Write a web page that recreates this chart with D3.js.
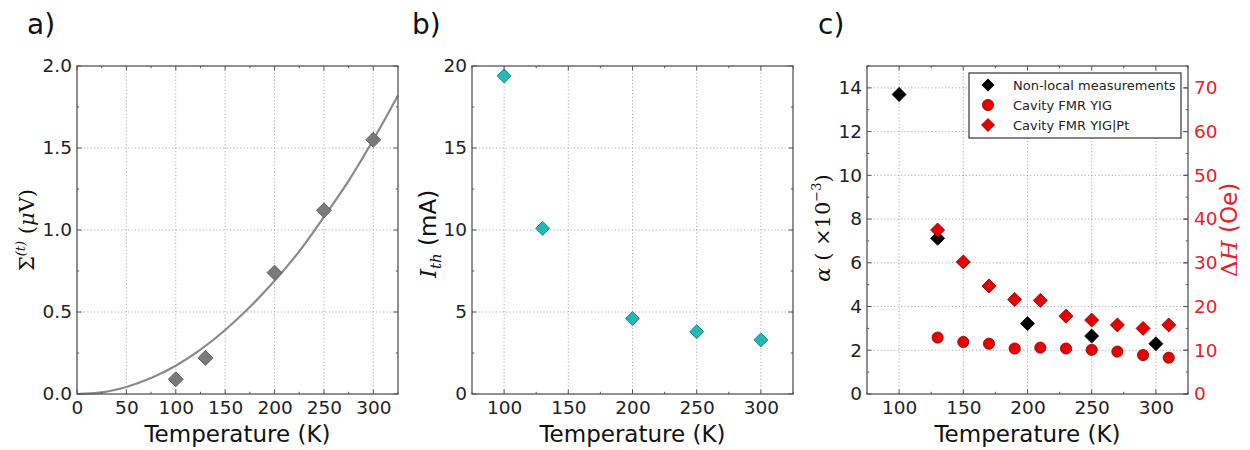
<!DOCTYPE html>
<html><head><meta charset="utf-8">
<script src="https://cdn.jsdelivr.net/npm/d3@7"></script>
<style>body{margin:0;background:#fff}</style>
</head><body>
<svg id="chart" width="1250" height="450" xmlns="http://www.w3.org/2000/svg"></svg>
<script>
// ---------- data ----------
const tempA = [100, 130, 200, 250, 300];
const sigmaA = [0.09, 0.22, 0.74, 1.12, 1.55];
const fitT = [0, 25, 50, 75, 100, 125, 150, 175, 200, 225, 250, 275, 300, 325];
const fitV = [0, 0.01, 0.043, 0.097, 0.172, 0.27, 0.39, 0.53, 0.69, 0.87, 1.08, 1.30, 1.55, 1.82];

const tempB = [100, 130, 200, 250, 300];
const ithB = [19.4, 10.1, 4.6, 3.8, 3.3];

const tempNL = [100, 130, 200, 250, 300];
const alphaNL = [13.7, 7.12, 3.22, 2.65, 2.30];
const tempFMR = [130, 150, 170, 190, 210, 230, 250, 270, 290, 310];
const dhYIG = [12.9, 11.9, 11.5, 10.4, 10.6, 10.4, 10.1, 9.7, 8.9, 8.3];
const dhYIGPt = [37.5, 30.2, 24.7, 21.6, 21.4, 17.8, 16.9, 15.8, 15.0, 15.8];

const xTicksA = [0, 50, 100, 150, 200, 250, 300];
const yTicksA = [0, 0.5, 1.0, 1.5, 2.0];
const xTicksBC = [100, 150, 200, 250, 300];
const yTicksB = [0, 5, 10, 15, 20];
const yTicksC = [0, 2, 4, 6, 8, 10, 12, 14];
const yTicksC2 = [0, 10, 20, 30, 40, 50, 60, 70];
const legendLabels = ["Non-local measurements", "Cavity FMR YIG", "Cavity FMR YIG|Pt"];

// ---------- helpers ----------
const svg = d3.select("#chart");
const SANS = "DejaVu Sans, sans-serif";
const SERIF = "DejaVu Serif, serif";
const FRAME = "#555";
const TOP = 66, BOT = 394;

function panel(o) {
  const g = svg.append("g");
  const x = d3.scaleLinear().domain(o.xDomain).range([o.x0, o.x1]);
  const y = d3.scaleLinear().domain(o.yDomain).range([BOT, TOP]);
  // grid
  g.selectAll(".gx").data(o.xTicks.filter(t => x(t) > o.x0 + 1 && x(t) < o.x1 - 1)).enter().append("line")
    .attr("x1", d => x(d)).attr("x2", d => x(d)).attr("y1", TOP).attr("y2", BOT)
    .attr("stroke", "#999").attr("stroke-width", 0.8).attr("stroke-dasharray", "1.2,2.2");
  g.selectAll(".gy").data(o.yTicks.filter(t => y(t) > TOP + 1 && y(t) < BOT - 1)).enter().append("line")
    .attr("x1", o.x0).attr("x2", o.x1).attr("y1", d => y(d)).attr("y2", d => y(d))
    .attr("stroke", "#999").attr("stroke-width", 0.8).attr("stroke-dasharray", "1.2,2.2");
  return {g, x, y};
}

function frame(p, o) {
  const g = svg.append("g");
  const {x, y} = p;
  // major & minor ticks (inward, all sides)
  const xMinor = [];
  for (let i = 0; i < o.xTicks.length - 1; i++) xMinor.push((o.xTicks[i] + o.xTicks[i + 1]) / 2);
  if (o.xExtraMinor) xMinor.push(...o.xExtraMinor);
  const yMinor = [];
  for (let i = 0; i < o.yTicks.length - 1; i++) yMinor.push((o.yTicks[i] + o.yTicks[i + 1]) / 2);
  if (o.yExtraMinor) yMinor.push(...o.yExtraMinor);
  const tick = (arr, len, horiz) => {
    arr.forEach(v => {
      if (horiz) {
        const px = x(v);
        g.append("line").attr("x1", px).attr("x2", px).attr("y1", BOT).attr("y2", BOT - len).attr("stroke", FRAME);
        g.append("line").attr("x1", px).attr("x2", px).attr("y1", TOP).attr("y2", TOP + len).attr("stroke", FRAME);
      } else {
        const py = y(v);
        g.append("line").attr("x1", o.x0).attr("x2", o.x0 + len).attr("y1", py).attr("y2", py).attr("stroke", FRAME);
        if (!o.noRightTicks)
          g.append("line").attr("x1", o.x1).attr("x2", o.x1 - len).attr("y1", py).attr("y2", py).attr("stroke", FRAME);
      }
    });
  };
  tick(o.xTicks, 4.5, true); tick(xMinor, 2.2, true);
  tick(o.yTicks, 4.5, false); tick(yMinor, 2.2, false);
  g.append("rect").attr("x", o.x0).attr("y", TOP).attr("width", o.x1 - o.x0).attr("height", BOT - TOP)
    .attr("fill", "none").attr("stroke", FRAME).attr("stroke-width", 1.3);
  // tick labels via axes
  const ax = d3.axisBottom(x).tickValues(o.xTicks).tickSize(0).tickPadding(7).tickFormat(d3.format("d"));
  const axg = svg.append("g").attr("transform", `translate(0,${BOT})`).call(ax);
  axg.select(".domain").remove();
  axg.selectAll("text").attr("font-family", SANS).attr("font-size", 18.5).attr("fill", "#222");
  const ay = d3.axisLeft(y).tickValues(o.yTicks).tickSize(0).tickPadding(5).tickFormat(o.yFmt);
  const ayg = svg.append("g").attr("transform", `translate(${o.x0},0)`).call(ay);
  ayg.select(".domain").remove();
  ayg.selectAll("text").attr("font-family", SANS).attr("font-size", 18.5).attr("fill", "#222");
  // x label
  svg.append("text").attr("x", (o.x0 + o.x1) / 2).attr("y", 442).attr("text-anchor", "middle")
    .attr("font-family", SANS).attr("font-size", 23).attr("fill", "#111").text("Temperature (K)");
}

function diamond(g, xs, ys, x, y, fill, stroke, diag) {
  const side = diag / Math.SQRT2;
  const sym = d3.symbol(d3.symbolSquare, side * side);
  g.selectAll(null).data(xs.map((t, i) => [t, ys[i]])).enter().append("path")
    .attr("d", sym).attr("transform", d => `translate(${x(d[0])},${y(d[1])}) rotate(45)`)
    .attr("fill", fill).attr("stroke", stroke).attr("stroke-width", 0.8);
}

function panelLabel(txt, px) {
  svg.append("text").attr("x", px).attr("y", 34).attr("font-family", SANS).attr("font-size", 28)
    .attr("fill", "#111").text(txt);
}

// ---------- panel a ----------
const oA = {x0: 77, x1: 398, xDomain: [0, 325], yDomain: [0, 2], xTicks: xTicksA, yTicks: yTicksA,
  yFmt: d3.format(".1f"), xExtraMinor: [325]};
const pA = panel(oA);
pA.g.append("path").datum(fitT.map((t, i) => [t, fitV[i]]))
  .attr("d", d3.line().x(d => pA.x(d[0])).y(d => pA.y(d[1])).curve(d3.curveMonotoneX))
  .attr("fill", "none").attr("stroke", "#8a8a8a").attr("stroke-width", 2.2);
diamond(pA.g, tempA, sigmaA, pA.x, pA.y, "#7a7a7a", "#5a5a5a", 15);
frame(pA, oA);
panelLabel("a)", 27);
{
  const t = svg.append("text").attr("transform", "translate(34,230) rotate(-90)").attr("text-anchor", "middle")
    .attr("font-family", SERIF).attr("font-size", 21).attr("fill", "#111");
  t.append("tspan").text("Σ");
  t.append("tspan").attr("font-size", 13).attr("dy", -9).attr("font-style", "italic").text("(t)");
  t.append("tspan").attr("dy", 9).text(" (");
  t.append("tspan").attr("font-style", "italic").text("μ");
  t.append("tspan").text("V)");
}

// ---------- panel b ----------
const oB = {x0: 472, x1: 793, xDomain: [75, 325], yDomain: [0, 20], xTicks: xTicksBC, yTicks: yTicksB,
  yFmt: d3.format("d"), xExtraMinor: [75, 325]};
const pB = panel(oB);
diamond(pB.g, tempB, ithB, pB.x, pB.y, "#1fbab5", "#127a77", 14);
frame(pB, oB);
panelLabel("b)", 412);
{
  const t = svg.append("text").attr("transform", "translate(436,234) rotate(-90)").attr("text-anchor", "middle")
    .attr("font-size", 23).attr("fill", "#111");
  t.append("tspan").attr("font-family", SERIF).attr("font-style", "italic").text("I");
  t.append("tspan").attr("font-family", SERIF).attr("font-style", "italic").attr("font-size", 15).attr("dy", 5).text("th");
  t.append("tspan").attr("font-family", SANS).attr("dy", -5).text(" (mA)");
}

// ---------- panel c ----------
const oC = {x0: 867, x1: 1188, xDomain: [75, 325], yDomain: [0, 15], xTicks: xTicksBC, yTicks: yTicksC,
  yFmt: d3.format("d"), xExtraMinor: [75, 325], yExtraMinor: [15]};
const pC = panel(oC);
const y2 = d3.scaleLinear().domain([0, 75]).range([BOT, TOP]);
diamond(pC.g, tempNL, alphaNL, pC.x, pC.y, "#000", "#000", 14);
pC.g.selectAll(null).data(tempFMR.map((t, i) => [t, dhYIG[i]])).enter().append("circle")
  .attr("cx", d => pC.x(d[0])).attr("cy", d => y2(d[1])).attr("r", 5.6)
  .attr("fill", "#e60000").attr("stroke", "#8a0000").attr("stroke-width", 0.8);
diamond(pC.g, tempFMR, dhYIGPt, pC.x, y2, "#e60000", "#8a0000", 14);
frame(pC, oC);
// right axis
{
  const ar = d3.axisRight(y2).tickValues(yTicksC2).tickSize(0).tickPadding(6).tickFormat(d3.format("d"));
  const arg = svg.append("g").attr("transform", `translate(${oC.x1},0)`).call(ar);
  arg.select(".domain").remove();
  arg.selectAll("text").attr("font-family", SANS).attr("font-size", 18.5).attr("fill", "#e8202a");
  yTicksC2.forEach(v => {
    svg.append("line").attr("x1", oC.x1).attr("x2", oC.x1 - 4.5).attr("y1", y2(v)).attr("y2", y2(v)).attr("stroke", FRAME);
  });
}
panelLabel("c)", 818);
{
  const t = svg.append("text").attr("transform", "translate(830,228) rotate(-90)").attr("text-anchor", "middle")
    .attr("font-family", SERIF).attr("font-size", 21).attr("fill", "#111");
  t.append("tspan").attr("font-style", "italic").text("α");
  t.append("tspan").text(" ( ×10");
  t.append("tspan").attr("font-size", 13).attr("dy", -9).text("−3");
  t.append("tspan").attr("dy", 9).text(")");
}
{
  const t = svg.append("text").attr("transform", "translate(1237,230) rotate(-90)").attr("text-anchor", "middle")
    .attr("font-size", 23).attr("fill", "#e8202a");
  t.append("tspan").attr("font-family", SERIF).text("Δ");
  t.append("tspan").attr("font-family", SERIF).attr("font-style", "italic").text("H");
  t.append("tspan").attr("font-family", SANS).text(" (Oe)");
}
// legend
{
  const lg = svg.append("g");
  lg.append("rect").attr("x", 969).attr("y", 73).attr("width", 212).attr("height", 65)
    .attr("fill", "#fff").attr("stroke", "#333").attr("stroke-width", 1.2);
  const ly = [85, 105, 125];
  const side = 13 / Math.SQRT2;
  lg.append("path").attr("d", d3.symbol(d3.symbolSquare, side * side)).attr("transform", `translate(988,${ly[0]}) rotate(45)`).attr("fill", "#000");
  lg.append("circle").attr("cx", 988).attr("cy", ly[1]).attr("r", 5.6).attr("fill", "#e60000").attr("stroke", "#8a0000").attr("stroke-width", 0.8);
  lg.append("path").attr("d", d3.symbol(d3.symbolSquare, side * side)).attr("transform", `translate(988,${ly[2]}) rotate(45)`).attr("fill", "#e60000").attr("stroke", "#8a0000").attr("stroke-width", 0.8);
  legendLabels.forEach((l, i) => {
    lg.append("text").attr("x", 1013).attr("y", ly[i]).attr("dy", "0.35em").attr("font-family", SANS)
      .attr("font-size", 13).attr("fill", "#222").text(l);
  });
}
</script>
</body></html>
